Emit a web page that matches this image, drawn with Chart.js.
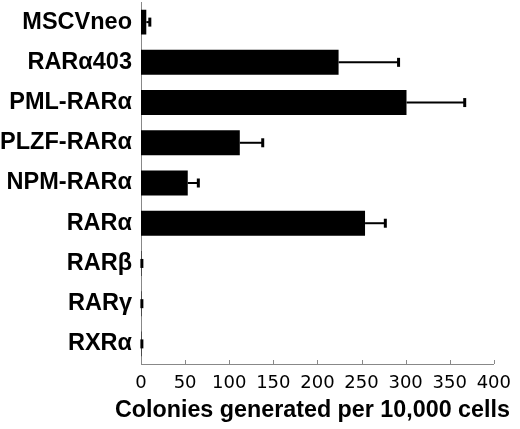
<!DOCTYPE html>
<html>
<head>
<meta charset="utf-8">
<script src="https://cdn.jsdelivr.net/npm/chart.js@4"></script>
<style>
  body { margin: 0; background: #fff; }
  #wrap { width: 520px; height: 429px; }
</style>
</head>
<body>
<div id="wrap"><canvas id="myChart" width="520" height="429"></canvas></div>
<script>
const categories = ['MSCVneo', 'RARα403', 'PML-RARα', 'PLZF-RARα', 'NPM-RARα', 'RARα', 'RARβ', 'RARγ', 'RXRα']
const colonies = [6, 224, 301, 112, 53, 254, 0.5, 0.5, 0.5]
const errors = [4, 68, 66, 26, 12, 23, 0.5, 0.5, 0.5]
const xTicks = [0, 50, 100, 150, 200, 250, 300, 350, 400]
const xTitle = 'Colonies generated per 10,000 cells'

// whiskers to the right of each bar, with a small cap
const errorBars = {
  id: 'errorBars',
  afterDatasetsDraw(chart) {
    const ctx = chart.ctx
    const x = chart.scales.x
    const meta = chart.getDatasetMeta(0)
    ctx.save()
    ctx.strokeStyle = '#000'
    meta.data.forEach((bar, i) => {
      let x0 = x.getPixelForValue(colonies[i])
      let x1 = x.getPixelForValue(colonies[i] + errors[i])
      ctx.lineWidth = 2
      ctx.beginPath()
      ctx.moveTo(x0, bar.y)
      ctx.lineTo(x1, bar.y)
      ctx.stroke()
      ctx.lineWidth = 3
      ctx.beginPath()
      ctx.moveTo(x1, bar.y - 4.5)
      ctx.lineTo(x1, bar.y + 4.5)
      ctx.stroke()
    })
    ctx.restore()
  }
}

// tick marks point up into the plot, plus the axis title
// (the built-in scale title gets squeezed to the plot width)
const innerTicks = {
  id: 'innerTicks',
  afterDraw(chart) {
    const ctx = chart.ctx
    const x = chart.scales.x
    const y0 = chart.chartArea.bottom
    ctx.save()
    ctx.strokeStyle = '#888'
    ctx.lineWidth = 1
    xTicks.forEach(v => {
      let px = Math.round(x.getPixelForValue(v)) + 0.5
      ctx.beginPath()
      ctx.moveTo(px, y0)
      ctx.lineTo(px, y0 - 4)
      ctx.stroke()
    })
    ctx.fillStyle = '#000'
    ctx.font = 'bold 23.3px "Liberation Sans", Arial, sans-serif'
    ctx.textAlign = 'center'
    ctx.textBaseline = 'alphabetic'
    ctx.fillText(xTitle, (x.left + x.right) / 2 - 5, 417)
    ctx.restore()
  }
}

new Chart(document.getElementById('myChart'), {
  type: 'bar',
  data: {
    labels: categories,
    datasets: [{
      data: colonies,
      backgroundColor: '#000',
      borderWidth: 0,
      barPercentage: 0.62,
      categoryPercentage: 1
    }]
  },
  options: {
    indexAxis: 'y',
    responsive: false,
    animation: false,
    layout: { padding: { top: 2, right: 21, left: 0, bottom: 0 } },
    plugins: { legend: { display: false }, tooltip: { enabled: false } },
    scales: {
      x: {
        min: 0,
        max: 400,
        afterBuildTicks: scale => { scale.ticks = xTicks.map(v => ({ value: v })) },
        afterFit: scale => { scale.height = 65 },
        grid: { display: false, drawTicks: false },
        border: { display: true, color: '#888', width: 1 },
        ticks: {
          color: '#000',
          padding: 9,
          maxRotation: 0,
          font: { family: 'DejaVu Sans', size: 18 }
        }
      },
      y: {
        afterFit: scale => {
          scale.width = 141
          scale.paddingTop = 0
          scale.paddingBottom = 0
        },
        grid: { display: false, drawTicks: false },
        border: { display: true, color: '#888', width: 1 },
        ticks: {
          color: '#000',
          padding: 9,
          font: { family: 'Liberation Sans', size: 23.5, weight: 'bold' }
        }
      }
    }
  },
  plugins: [errorBars, innerTicks]
})
</script>
</body>
</html>
